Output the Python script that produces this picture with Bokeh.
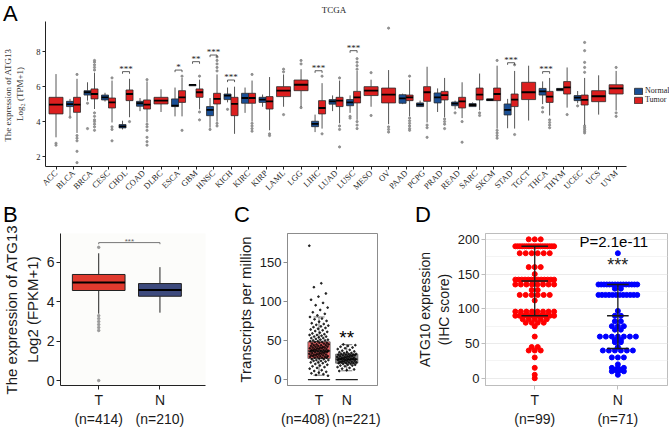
import numpy as np
from math import pi
from bokeh.plotting import figure
from bokeh.layouts import column, row
from bokeh.models import Range1d, FixedTicker, Legend, LegendItem, Label, ColumnDataSource, Div
from bokeh.embed import file_html
from bokeh.resources import INLINE

SERIF = "Liberation Serif"
SANS = "Liberation Sans"

# ---------------- Panel A: ATG13 across TCGA cancers ----------------
cancers = ["ACC", "BLCA", "BRCA", "CESC", "CHOL", "COAD", "DLBC", "ESCA", "GBM", "HNSC", "KICH",
           "KIRC", "KIRP", "LAML", "LGG", "LIHC", "LUAD", "LUSC", "MESO", "OV", "PAAD", "PCPG",
           "PRAD", "READ", "SARC", "SKCM", "STAD", "TGCT", "THCA", "THYM", "UCEC", "UCS", "UVM"]

tumor_q1 = [4.44, 4.53, 5.30, 4.78, 5.20, 4.72, 5.01, 5.10, 5.39, 5.01, 4.34, 5.05, 4.72, 5.43, 5.77, 4.44, 4.86,
            5.07, 5.49, 5.07, 5.20, 5.16, 5.24, 4.78, 5.24, 5.20, 4.86, 5.26, 5.10, 5.58, 4.95, 5.14, 5.58]
tumor_med = [4.97, 4.97, 5.58, 5.10, 5.58, 4.97, 5.20, 5.39, 5.68, 5.30, 5.01, 5.35, 5.16, 5.77, 6.11, 4.78, 5.20,
             5.39, 5.77, 5.54, 5.39, 5.68, 5.52, 5.16, 5.54, 5.58, 5.26, 5.68, 5.43, 5.96, 5.24, 5.45, 5.90]
tumor_q3 = [5.39, 5.39, 5.87, 5.35, 5.81, 5.24, 5.39, 5.77, 5.87, 5.62, 5.39, 5.62, 5.43, 6.00, 6.38, 5.20, 5.39,
            5.73, 6.00, 5.92, 5.52, 6.00, 5.73, 5.39, 5.92, 5.92, 5.58, 6.25, 5.73, 6.29, 5.52, 5.77, 6.11]
tumor_lo = [3.10, 3.35, 4.72, 3.95, 4.25, 3.95, 4.55, 4.30, 4.70, 4.00, 3.30, 4.00, 3.50, 4.85, 4.85, 3.60, 3.90,
            4.10, 4.85, 3.85, 4.30, 3.95, 4.25, 4.20, 4.65, 3.60, 3.60, 4.06, 4.35, 4.80, 3.80, 4.40, 4.63]
tumor_hi = [6.72, 6.45, 6.80, 6.35, 6.45, 6.30, 5.85, 6.50, 6.40, 6.70, 6.00, 6.35, 6.55, 6.70, 7.00, 6.20, 6.35,
            6.90, 6.40, 6.95, 6.40, 7.14, 6.50, 6.25, 6.75, 7.20, 6.90, 7.20, 6.50, 7.10, 6.50, 6.65, 6.90]

normal_cancers = ["BLCA", "BRCA", "CESC", "CHOL", "COAD", "ESCA", "GBM", "HNSC", "KICH", "KIRC", "KIRP", "LIHC",
                  "LUAD", "LUSC", "PAAD", "PCPG", "PRAD", "READ", "SARC", "SKCM", "STAD", "THCA", "THYM", "UCEC"]
normal_q1 = [4.86, 5.52, 5.24, 3.64, 4.88, 4.86, 6.05, 4.34, 5.26, 5.05, 5.10, 3.71,
             5.00, 4.91, 5.05, 4.86, 5.07, 4.91, 4.86, 5.20, 4.38, 5.52, 5.77, 5.20]
normal_med = [5.00, 5.68, 5.39, 3.73, 5.05, 4.91, 6.10, 4.67, 5.49, 5.35, 5.26, 3.87,
              5.16, 5.10, 5.33, 4.97, 5.39, 5.03, 4.95, 5.25, 4.67, 5.73, 5.85, 5.37]
normal_q3 = [5.16, 5.77, 5.52, 3.83, 5.16, 5.30, 6.12, 4.86, 5.58, 5.62, 5.39, 4.02,
             5.26, 5.26, 5.54, 5.07, 5.64, 5.12, 5.03, 5.30, 5.01, 5.90, 5.90, 5.49]
normal_lo = [4.30, 5.20, 5.15, 3.55, 4.60, 4.30, 6.05, 3.65, 5.10, 4.50, 4.85, 3.40,
             4.60, 4.50, 5.00, 4.85, 4.55, 4.70, 4.85, 5.20, 3.62, 5.00, 5.77, 5.05]
normal_hi = [5.30, 6.25, 5.65, 4.05, 5.35, 5.95, 6.12, 5.35, 5.95, 5.95, 5.55, 4.40,
             5.50, 5.50, 5.60, 5.20, 5.90, 5.20, 5.10, 5.30, 5.30, 6.30, 5.90, 5.75]

tumor_out_cancer = (["ACC"] * 2 + ["BLCA"] * 6 + ["BRCA"] * 12 + ["CESC"] * 4 + ["CHOL"] + ["COAD"] * 7 +
                    ["ESCA"] * 2 + ["GBM"] * 3 + ["HNSC"] * 7 + ["KIRC"] * 5 + ["KIRP"] * 2 + ["LAML"] * 3 +
                    ["LGG"] * 3 + ["LIHC"] * 2 + ["LUAD"] * 4 + ["LUSC"] * 7 + ["MESO"] * 2 + ["OV"] * 4 +
                    ["PAAD"] * 7 + ["PCPG"] * 3 + ["PRAD"] * 4 + ["READ"] * 2 + ["SARC"] * 2 + ["SKCM"] * 5 +
                    ["STAD"] * 2 + ["THCA"] * 4 + ["THYM"] + ["UCEC"] * 10 + ["UVM"] * 3)
tumor_out_value = ([2.76, 2.65] + [6.70, 3.20, 3.05, 2.90, 2.30, 1.65] +
                   [6.95, 7.10, 7.25, 7.40, 7.50, 4.50, 4.30, 4.10, 4.00, 3.85, 3.70, 3.50] +
                   [6.50, 3.70, 3.55, 2.90] + [4.00] + [6.40, 3.85, 3.70, 3.50, 3.10, 2.85, 2.65] +
                   [6.60, 3.50] + [6.60, 4.55, 4.10] + [6.90, 7.10, 7.30, 7.50, 7.70, 3.90, 3.75] +
                   [6.70, 3.90, 3.75, 3.60, 3.45] + [3.30, 3.20] + [7.00, 6.85, 4.40] + [7.50, 7.30, 4.80] +
                   [6.60, 3.30] + [6.50, 3.75, 3.55, 2.55] + [7.00, 7.20, 7.40, 7.60, 4.00, 3.80, 3.60] +
                   [6.80, 4.35] + [9.35, 3.70, 3.55, 3.40] + [6.60, 4.20, 4.05, 3.90, 3.75, 3.60, 3.50] +
                   [3.80, 3.65, 3.10] + [4.15, 4.00, 3.85, 3.60] + [4.00, 2.82] + [4.50, 4.35] +
                   [7.50, 3.50, 3.35, 3.20, 3.05] + [7.25, 3.26] + [4.10, 3.95, 3.80, 3.65] + [4.40] +
                   [8.53, 8.06, 7.39, 7.10, 6.82, 3.75, 3.65, 3.55, 3.45, 3.35] + [7.10, 4.50, 4.30])
normal_out_cancer = ["BLCA", "BRCA", "BRCA", "HNSC", "KICH", "LUSC", "LUSC", "READ", "THCA", "THCA", "UCEC"]
normal_out_value = [4.25, 5.05, 3.60, 3.55, 4.70, 4.30, 4.20, 4.50, 4.80, 4.55, 4.90]

sig_cancers = ["CHOL", "ESCA", "GBM", "HNSC", "KICH", "LIHC", "LUSC", "STAD", "THCA"]
sig_marks = ["***", "*", "**", "***", "***", "***", "***", "***", "***"]
sig_level = [6.86, 6.95, 7.43, 7.81, 6.38, 6.91, 8.06, 7.37, 6.86]

# ---------------- Panel B: ATG13, tumour vs normal ----------------
b_groups = ["T", "N"]
b_counts = [414, 210]
b_q1 = [4.57, 4.28]
b_med = [4.97, 4.60]
b_q3 = [5.38, 4.92]
b_lo = [3.40, 3.45]
b_hi = [6.45, 5.75]
b_out_value = [6.75, 3.30, 3.15, 3.00, 2.85, 2.70, 2.55, 0.02]
b_sig_level = 6.99

# ---------------- Panel C: transcripts per million ----------------
c_groups = ["T", "N"]
c_counts = [408, 221]
c_q1 = [27.0, 21.0]
c_med = [36.6, 26.0]
c_q3 = [48.3, 32.5]
c_lo = [5.6, 11.3]
c_hi = [80.0, 44.6]
c_tumor_tpm = [171, 123, 118, 110, 106, 102, 98, 95, 92, 89, 86, 84, 82,
               80, 78, 77, 75, 74, 72, 71, 70, 69, 68, 67, 66, 65, 64, 63, 62, 61, 60,
               59, 58, 57, 57, 56, 55, 55, 54, 53, 53, 52, 51, 51, 50, 50, 49, 49, 48, 48,
               47, 47, 46, 46, 45, 45, 44, 44, 44, 43, 43, 42, 42, 42, 41, 41, 41, 40, 40, 40,
               39, 39, 39, 38, 38, 38, 37, 37,
               37, 36, 36, 36, 35, 35, 35, 34, 34, 34, 33, 33, 33, 32, 32, 32, 31, 31, 31,
               30, 30, 30, 29, 29, 29, 28, 28, 28,
               27, 26, 26, 25, 25, 24, 24, 23, 22, 22, 21, 20, 19, 18, 17, 16, 15, 14, 12, 11,
               10, 9, 8, 7, 6, 5]
c_normal_tpm = [45, 44, 43, 42, 41, 40, 39, 38, 37, 36, 35, 35, 34, 34, 33, 33, 33, 32, 32, 32,
                31, 31, 31, 30, 30, 30, 29, 29, 29, 28, 28, 28, 27, 27, 27, 26, 26, 26, 26,
                25, 25, 25, 24, 24, 24, 23, 23, 23, 22, 22, 22, 21, 21, 21, 20, 20, 19, 19,
                18, 18, 17, 16, 15, 14, 13, 12, 11]

# ---------------- Panel D: ATG10 IHC score ----------------
d_groups = ["T", "N"]
d_counts = [99, 71]
d_t_scores = [200, 190, 180, 160, 150, 142, 135, 127, 120, 112, 96, 90, 85, 80, 75, 60, 45, 40, 30, 15, 5, 0]
d_t_cases = [3, 18, 6, 3, 1, 13, 8, 2, 6, 1, 8, 10, 5, 4, 1, 1, 2, 3, 1, 1, 1, 1]
d_n_scores = [180, 135, 129, 120, 97, 90, 82, 75, 70, 60, 55, 52, 45, 40, 30, 20, 15, 12, 10, 5]
d_n_cases = [1, 15, 2, 12, 1, 2, 2, 3, 2, 7, 2, 2, 1, 6, 3, 1, 3, 2, 3, 1]
d_mid = [140, 90]
d_low = [90, 43]
d_high = [190, 135]
d_pvalue = "P=2.1e-11"

RED_A, BLUE_A = "#DC1F1F", "#1A4F95"
EDGE = "#2b2b2b"
NBSP = "\u00a0"


def boxes(p, x, w, q1, med, q3, lo, hi, fill, line=EDGE, lw=0.8, med_w=1.8, cap=0.0, med_color="black"):
    x = list(x)
    w = list(w)
    fills = fill if isinstance(fill, list) else [fill] * len(x)
    src = ColumnDataSource(dict(x=x, w=w, q1=q1, med=med, q3=q3, lo=lo, hi=hi, fill=fills,
                                xl=[a - b / 2 for a, b in zip(x, w)], xr=[a + b / 2 for a, b in zip(x, w)],
                                cl=[a - cap / 2 for a in x], cr=[a + cap / 2 for a in x]))
    p.segment(x0="x", y0="q3", x1="x", y1="hi", source=src, line_color=line, line_width=lw)
    p.segment(x0="x", y0="q1", x1="x", y1="lo", source=src, line_color=line, line_width=lw)
    if cap:
        p.segment(x0="cl", y0="hi", x1="cr", y1="hi", source=src, line_color=line, line_width=lw)
        p.segment(x0="cl", y0="lo", x1="cr", y1="lo", source=src, line_color=line, line_width=lw)
    r = p.vbar(x="x", width="w", bottom="q1", top="q3", source=src, fill_color="fill",
               line_color=line, line_width=lw)
    p.segment(x0="xl", y0="med", x1="xr", y1="med", source=src, line_color=med_color, line_width=med_w)
    return r


# ---- header strip above panel A: panel letter and title
head_a = Div(width=669, height=21, margin=0, styles={"overflow": "visible"}, text=(
    "<div style='position:relative;width:669px;height:21px;'>"
    "<span style=\"position:absolute;left:3px;top:3px;font:22px/22px 'Liberation Sans';color:#000;\">A</span>"
    "<span style=\"position:absolute;left:294px;width:80px;top:4px;text-align:center;"
    "font:9px/12px 'Liberation Serif';color:#222;\">TCGA</span></div>"))

# ---- Panel A figure (frame runs to the right edge so the legend can sit beside the axis)
frame_px = 583.0
pa = figure(width=669, height=182, x_range=Range1d(0.4, 0.4 + 33.2 * 626 / frame_px),
            y_range=Range1d(1.43, 9.73), output_backend="svg", toolbar_location=None,
            min_border_left=43, min_border_right=0, min_border_top=0, min_border_bottom=37)
pa.outline_line_color = None
pa.grid.grid_line_color = None
pos = {c: i + 1 for i, c in enumerate(cancers)}
paired = set(normal_cancers)
t_x = [pos[c] + (0.2 if c in paired else 0.0) for c in cancers]
t_w = [0.4 if c in paired else 0.8 for c in cancers]
n_x = [pos[c] - 0.2 for c in normal_cancers]

pa.scatter([pos[c] + (0.2 if c in paired else 0.0) for c in tumor_out_cancer], tumor_out_value,
           size=2.2, color="#8a8a8a", alpha=0.9)
pa.scatter([pos[c] - 0.2 for c in normal_out_cancer], normal_out_value, size=2.2, color="#8a8a8a", alpha=0.9)
rn = boxes(pa, n_x, [0.4] * len(n_x), normal_q1, normal_med, normal_q3, normal_lo, normal_hi, BLUE_A)
rt = boxes(pa, t_x, t_w, tumor_q1, tumor_med, tumor_q3, tumor_lo, tumor_hi, RED_A)

sx = [pos[c] for c in sig_cancers]
pa.segment(x0=[x - 0.2 for x in sx], x1=[x + 0.2 for x in sx], y0=sig_level, y1=sig_level,
           line_color="#333333", line_width=0.8)
pa.segment(x0=[x - 0.2 for x in sx], x1=[x - 0.2 for x in sx], y0=sig_level, y1=[y - 0.12 for y in sig_level],
           line_color="#333333", line_width=0.8)
pa.segment(x0=[x + 0.2 for x in sx], x1=[x + 0.2 for x in sx], y0=sig_level, y1=[y - 0.12 for y in sig_level],
           line_color="#333333", line_width=0.8)
for x, y, t in zip(sx, sig_level, sig_marks):
    pa.add_layout(Label(x=x, y=y, text=t, text_align="center", text_baseline="bottom",
                        text_font=SERIF, text_font_size="9px", text_color="#222222", y_offset=-2))

pa.xaxis.ticker = FixedTicker(ticks=list(range(1, len(cancers) + 1)))
pa.xaxis.major_label_overrides = {i + 1: c for i, c in enumerate(cancers)}
pa.xaxis.major_label_orientation = pi / 4
pa.xaxis.bounds = (0.4, 33.6)
pa.yaxis.ticker = FixedTicker(ticks=[2, 4, 6, 8])
for ax in (pa.xaxis[0], pa.yaxis[0]):
    ax.major_label_text_font = SERIF
    ax.major_label_text_font_size = "8.5px"
    ax.major_label_text_color = "#222222"
    ax.axis_line_color = "#222222"
    ax.major_tick_line_color = "#222222"
    ax.major_tick_out = 3
    ax.major_tick_in = 0
    ax.minor_tick_line_color = None
    ax.major_label_standoff = 2
pa.yaxis.axis_label = "The expression  of ATG13\nLog\u2082 (TPM+1)"
pa.yaxis.axis_label_text_font = SERIF
pa.yaxis.axis_label_text_font_style = "normal"
pa.yaxis.axis_label_text_font_size = "9px"
pa.yaxis.axis_label_text_color = "#333333"
pa.yaxis.axis_label_standoff = 8
legend = Legend(items=[LegendItem(label="Normal", renderers=[rn]), LegendItem(label="Tumor", renderers=[rt])],
                location=(588, 62), orientation="vertical", padding=0, margin=0, spacing=0,
                glyph_width=10, glyph_height=8, label_height=8, label_standoff=2,
                label_text_font=SERIF, label_text_font_size="8px", label_text_color="#222222",
                border_line_color=None, background_fill_alpha=0)
pa.add_layout(legend)

# ---- header strip above panels B, C and D: panel letters
head_bcd = Div(width=669, height=19, margin=0, styles={"overflow": "visible"}, text=(
    "<div style='position:relative;width:669px;height:19px;'>"
    "<span style=\"position:absolute;left:3px;top:1px;font:22px/22px 'Liberation Sans';color:#000;\">B</span>"
    "<span style=\"position:absolute;left:234px;top:1px;font:22px/22px 'Liberation Sans';color:#000;\">C</span>"
    "<span style=\"position:absolute;left:415px;top:1px;font:22px/22px 'Liberation Sans';color:#000;\">D</span>"
    "</div>"))

# ---- Panel B figure
pb = figure(width=233, height=207, x_range=Range1d(0.376, 2.744), y_range=Range1d(-0.23, 7.45),
            output_backend="svg", toolbar_location=None,
            min_border_left=57, min_border_right=28, min_border_top=11, min_border_bottom=38)
pb.outline_line_color = None
pb.grid.grid_line_color = None
pb.background_fill_color = "#fcfcfa"
pb.scatter([1] * len(b_out_value), b_out_value, size=2.5, color="#9a9a9a")
boxes(pb, [1, 2], [0.86, 0.70], b_q1, b_med, b_q3, b_lo, b_hi, ["#E03A2E", "#3D4A7D"],
      line="#222222", lw=1.0, med_w=2.0)
pb.line([1, 1, 2, 2], [b_sig_level - 0.08, b_sig_level, b_sig_level, b_sig_level - 0.08],
        line_color="#777777", line_width=1)
pb.add_layout(Label(x=1.5, y=b_sig_level, text="***", text_align="center", text_baseline="bottom",
                    text_font=SANS, text_font_size="8px", text_color="#666666", y_offset=-3))
pb.xaxis.ticker = FixedTicker(ticks=[1, 2])
pb.xaxis.major_label_overrides = {i + 1: f"{g}\n(n={n})" for i, (g, n) in enumerate(zip(b_groups, b_counts))}
pb.yaxis.ticker = FixedTicker(ticks=[0, 2, 4, 6])
pb.yaxis.axis_label = "The expression of ATG13\nLog2 (FPKM+1)"

# ---- Panel C figure
pc = figure(width=180, height=207, x_range=Range1d(-0.137, 3.11), y_range=Range1d(-7.5, 186.6),
            output_backend="svg", toolbar_location=None,
            min_border_left=42, min_border_right=36, min_border_top=0, min_border_bottom=36)
pc.outline_line_color = "#8c8c8c"
pc.grid.grid_line_color = None
boxes(pc, [1, 2], [0.8, 0.8], c_q1, c_med, c_q3, c_lo, c_hi, ["#F4686A", "#8E8E8E"],
      line="#555555", lw=0.8, med_w=1.6, cap=0.4, med_color="#3a3a3a")
pc.segment(x0=[0.6, 1.6], x1=[1.4, 2.4], y0=[0, 0], y1=[0, 0], line_color="#222222", line_width=1.3)
golden = 0.6180339887
t_jit = [1 + ((i * golden) % 1 - 0.5) * 0.7 for i in range(len(c_tumor_tpm))]
n_jit = [2 + (((i + 7) * golden) % 1 - 0.5) * 0.7 for i in range(len(c_normal_tpm))]
pc.scatter(t_jit, c_tumor_tpm, size=1.8, color="black", alpha=0.75)
pc.scatter(n_jit, c_normal_tpm, size=1.8, color="black", alpha=0.75)
pc.add_layout(Label(x=2, y=41, text="**", text_align="center", text_baseline="bottom",
                    text_font=SANS, text_font_size="19px", text_color="black"))
pc.xaxis.ticker = FixedTicker(ticks=[1, 2])
pc.xaxis.major_label_overrides = {
    1: f"{c_groups[0]}\n(n={c_counts[0]})" + NBSP * 7,
    2: f"{c_groups[1]}\n" + NBSP * 5 + f"(n={c_counts[1]})",
}
pc.yaxis.ticker = FixedTicker(ticks=[0, 50, 100, 150])
pc.yaxis.axis_label = "Transcripts per million"

# ---- Panel D figure
pd_ = figure(width=256, height=207, x_range=Range1d(0.408, 2.597), y_range=Range1d(-10.4, 208.4),
             output_backend="svg", toolbar_location=None,
             min_border_left=57, min_border_right=2, min_border_top=0, min_border_bottom=32)
pd_.outline_line_color = "#bdbdbd"
pd_.xgrid.grid_line_color = None
pd_.ygrid.grid_line_color = "#ebebeb"
pd_.ygrid.minor_grid_line_color = "#f4f4f4"
pd_.yaxis.ticker = FixedTicker(ticks=[0, 50, 100, 150, 200], minor_ticks=[25, 75, 125, 175])


def swarm(center, scores, cases, px_per_unit=90.0):
    xs, ys = [], []
    for s, n in zip(scores, cases):
        gap = 6.5 if n < 2 else min(6.5, 42.0 / (n - 1))
        for k in range(n):
            xs.append(center + (k - (n - 1) / 2) * gap / px_per_unit)
            ys.append(s)
    return xs, ys


tx_, ty_ = swarm(1, d_t_scores, d_t_cases)
nx_, ny_ = swarm(2, d_n_scores, d_n_cases)
pd_.scatter(tx_, ty_, size=5, color="#FF0000")
pd_.scatter(nx_, ny_, size=5, color="#0000FF")
half = [0.16, 0.13]
for g, (c, h) in enumerate(zip([1, 2], half)):
    pd_.segment(x0=[c - h] * 3, x1=[c + h] * 3, y0=[d_low[g], d_mid[g], d_high[g]],
                y1=[d_low[g], d_mid[g], d_high[g]], line_color="#1a1a1a", line_width=1.5)
pd_.segment(x0=[1, 2], x1=[1, 2], y0=d_low, y1=d_high, line_color="#1a1a1a", line_width=1.3)
pd_.add_layout(Label(x=1.95, y=197.5, text=d_pvalue, text_align="center", text_baseline="middle",
                     text_font=SANS, text_font_size="15px", text_color="black"))
pd_.add_layout(Label(x=2, y=148, text="***", text_align="center", text_baseline="bottom",
                     text_font=SANS, text_font_size="18px", text_color="#222222"))
pd_.xaxis.ticker = FixedTicker(ticks=[1, 2])
pd_.xaxis.major_label_overrides = {i + 1: f"{g}\n(n={n})" for i, (g, n) in enumerate(zip(d_groups, d_counts))}
pd_.yaxis.axis_label = "ATG10 expression\n(IHC score)"

# shared styling of the lower panels
for p, axcol in ((pb, "#222222"), (pc, "#8c8c8c"), (pd_, "#bdbdbd")):
    for ax in (p.xaxis[0], p.yaxis[0]):
        ax.major_label_text_font = SANS
        ax.major_label_text_font_size = "14px"
        ax.major_label_text_color = "#1a1a1a"
        ax.axis_line_color = axcol
        ax.major_tick_line_color = axcol
        ax.major_tick_out = 4
        ax.major_tick_in = 0
        ax.minor_tick_line_color = None
        ax.major_label_standoff = 2
    p.yaxis.axis_label_text_font = SANS
    p.yaxis.axis_label_text_font_style = "normal"
    p.yaxis.axis_label_text_font_size = "15px"
    p.yaxis.axis_label_text_color = "#1a1a1a"
    p.yaxis.axis_label_standoff = 3
pd_.yaxis.axis_label_text_font_size = "14px"
pd_.yaxis.major_label_text_font_size = "13px"
pc.yaxis.major_label_text_font_size = "13px"
pc.xaxis.major_tick_line_color = None

layout = column(head_a, pa, head_bcd, row(pb, pc, pd_))
open("out.html", "w").write(file_html(layout, INLINE))
